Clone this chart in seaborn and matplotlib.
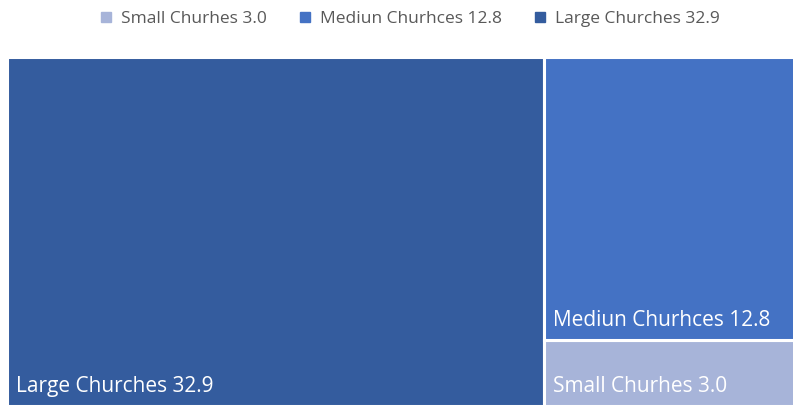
import matplotlib
matplotlib.use("Agg")
import matplotlib.pyplot as plt
from matplotlib.patches import Rectangle
from matplotlib.lines import Line2D
import seaborn as sns

# Church attendance groups (treemap)
categories = ["Small Churhes", "Mediun Churhces", "Large Churches"]
values = [3.0, 12.8, 32.9]
colors = ["#A7B4D9", "#4472C4", "#345C9E"]

sns.set_theme(style="white")
plt.rcParams["font.family"] = ["Open Sans", "DejaVu Sans"]

fig = plt.figure(figsize=(7.93, 4.05), dpi=100)
ax = fig.add_axes([7 / 793, -1 / 405, 795 / 793, 349 / 405])

total = sum(values)
large_v = values[2]
rest_v = values[0] + values[1]

# Large block takes the full height on the left; the rest share a column
rects = {}
rects[2] = (0.0, 0.0, large_v, 1.0)
x0 = large_v
h_small = values[0] / rest_v
rects[0] = (x0, 0.0, rest_v, h_small)
rects[1] = (x0, h_small, rest_v, 1.0 - h_small)

for i, (x, y, w, h) in rects.items():
    ax.add_patch(Rectangle((x, y), w, h, facecolor=colors[i],
                           edgecolor="white", linewidth=2.2, clip_on=False))
    ax.annotate(f"{categories[i]} {values[i]:.1f}", xy=(x, y),
                xytext=(9, 14), textcoords="offset pixels",
                color="white", fontsize=15, ha="left", va="baseline")

ax.set_xlim(0, total)
ax.set_ylim(0, 1)
ax.set_axis_off()

handles = [Line2D([], [], marker="s", linestyle="none", markersize=7,
                  markerfacecolor=colors[i], markeredgecolor=colors[i],
                  label=f"{categories[i]} {values[i]:.1f}")
           for i in range(len(categories))]
leg = fig.legend(handles=handles, loc="center",
                 bbox_to_anchor=(0.5 + 12 / 793, 1 - 19 / 405),
                 ncol=3, frameon=False, fontsize=12.5, handletextpad=0.35,
                 columnspacing=1.7, handlelength=1.0)
for t in leg.get_texts():
    t.set_color("#595959")

fig.savefig("out.png", dpi=100, facecolor="white")
